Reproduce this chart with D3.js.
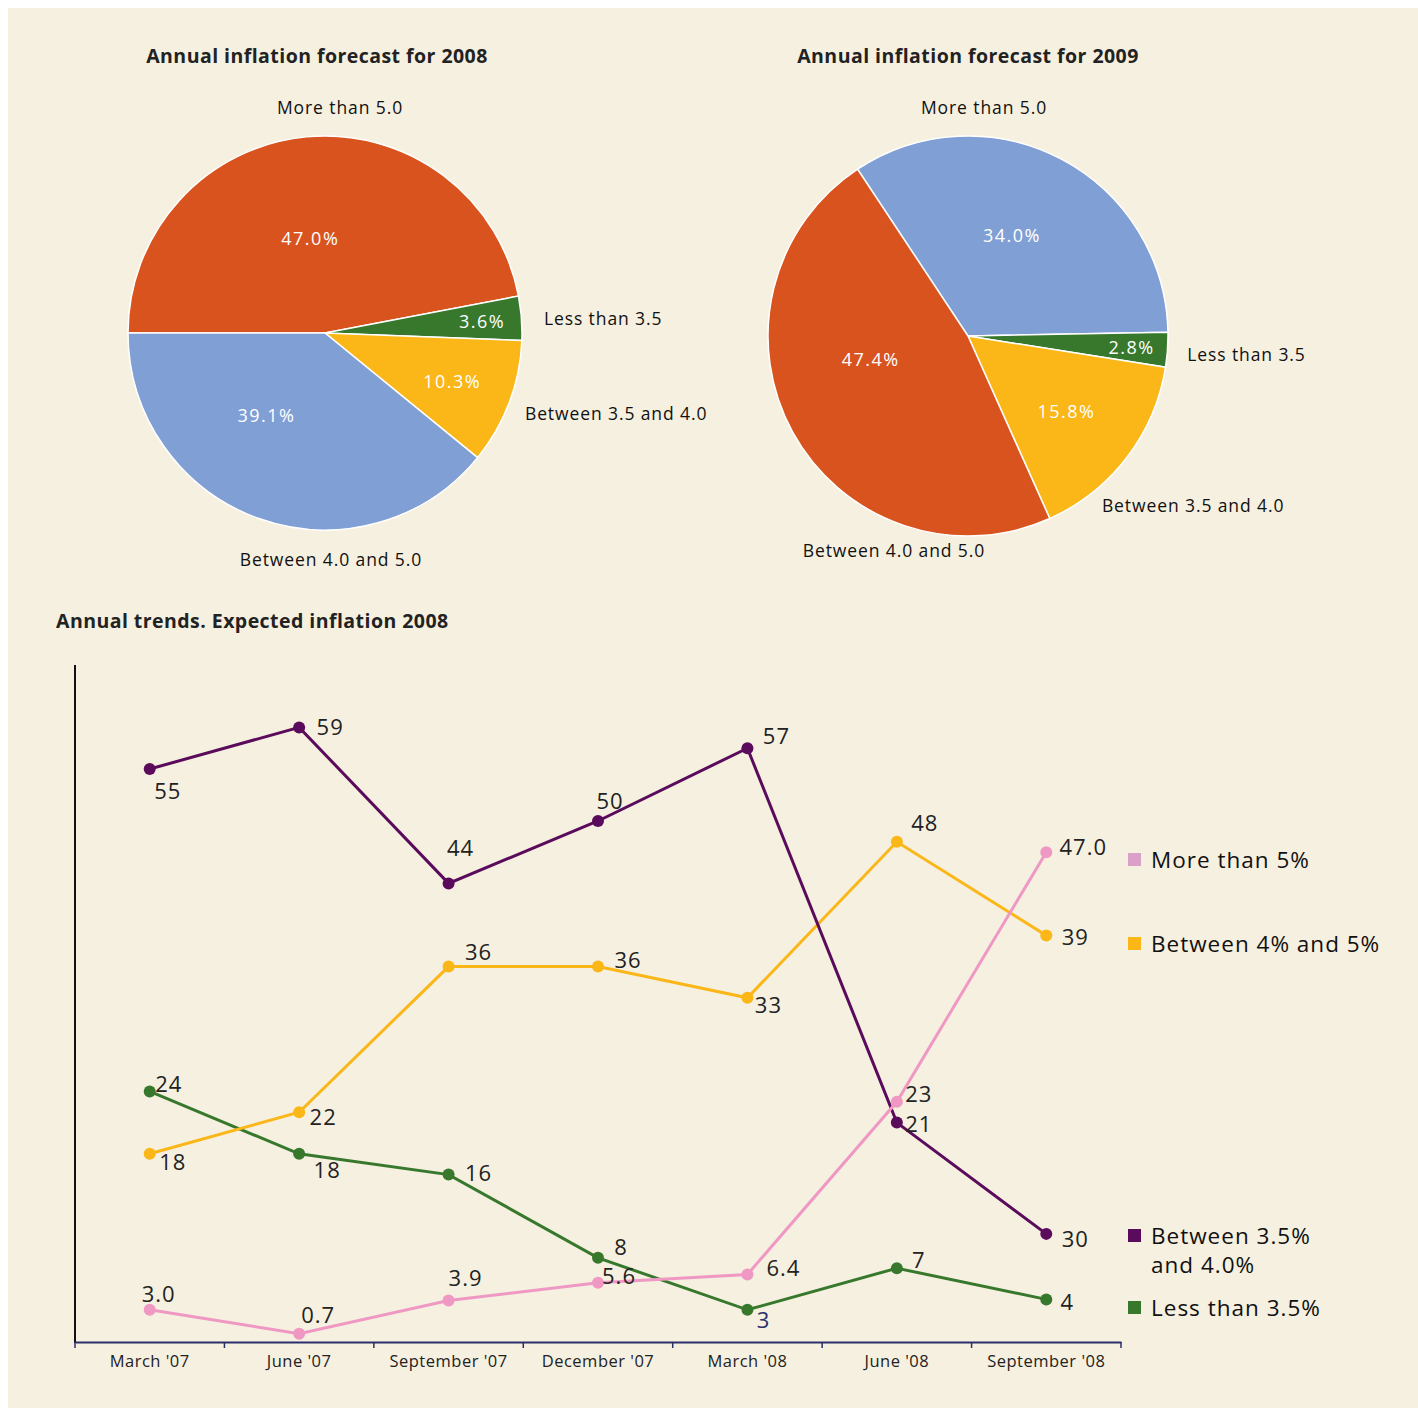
<!DOCTYPE html>
<html><head><meta charset="utf-8">
<script src="https://cdn.jsdelivr.net/npm/d3@7"></script>
<style>
html,body{margin:0;padding:0;background:#fff;}
svg{display:block;}
text{font-family:"Open Sans","Noto Sans",sans-serif;}
</style></head>
<body>
<svg id="chart" width="1418" height="1408"></svg>
<script>
// ---------- DATA ----------
const pieCategories = ["More than 5.0", "Less than 3.5", "Between 3.5 and 4.0", "Between 4.0 and 5.0"];
const pie2008Values = [47.0, 3.6, 10.3, 39.1];
const pie2009Values = [34.0, 2.8, 15.8, 47.4];
const pieTitles = ["Annual inflation forecast for 2008", "Annual inflation forecast for 2009"];

const periods = ["March '07", "June '07", "September '07", "December '07", "March '08", "June '08", "September '08"];
const seriesNames = ["More than 5%", "Between 4% and 5%", "Between 3.5%\nand 4.0%", "Less than 3.5%"];
const moreThan5 = [3.0, 0.7, 3.9, 5.6, 6.4, 23, 47.0];
const between4and5 = [18, 22, 36, 36, 33, 48, 39];
const between35and4 = [55, 59, 44, 50, 57, 21, 10.3];
const lessThan35 = [24, 18, 16, 8, 3, 7, 4];
// point labels as printed in the chart
const moreThan5Labels = ["3.0", "0.7", "3.9", "5.6", "6.4", "23", "47.0"];
const between4and5Labels = ["18", "22", "36", "36", "33", "48", "39"];
const between35and4Labels = ["55", "59", "44", "50", "57", "21", "30"];
const lessThan35Labels = ["24", "18", "16", "8", "3", "7", "4"];
const lineTitle = "Annual trends. Expected inflation 2008";

// ---------- STYLE ----------
const C = {orange:"#d9531e", blue:"#7f9fd5", yellow:"#fbb617", green:"#37782d",
           purple:"#5a0b5c", pink:"#f098c4", pinkLegend:"#dba0c8", cream:"#f6f0e0", navy:"#2b2f6b"};
const pie2008Colors = [C.orange, C.green, C.yellow, C.blue];
const pie2009Colors = [C.blue, C.green, C.yellow, C.orange];

const svg = d3.select("#chart");
svg.append("rect").attr("x",8).attr("y",8).attr("width",1410).attr("height",1400).attr("fill",C.cream);

// ---------- PIES ----------
function drawPie(cfg){
  const g = svg.append("g").attr("transform",`translate(${cfg.cx},${cfg.cy})`);
  const pie = d3.pie().sort(null).value(d=>d.v)
      .startAngle(cfg.start).endAngle(cfg.start + 2*Math.PI);
  const data = cfg.values.map((v,i)=>({v, name: pieCategories[i], color: cfg.colors[i]}));
  const arcs = pie(data);
  const arc = d3.arc().innerRadius(0).outerRadius(cfg.r);
  g.selectAll("path").data(arcs).join("path")
    .attr("d",arc).attr("fill",d=>d.data.color)
    .attr("stroke","#fff").attr("stroke-width",1.5);
  // inner percent labels
  g.selectAll("text.pct").data(arcs).join("text").attr("class","pct")
    .attr("transform",(d,i)=>{
      const a = d.startAngle + (d.endAngle-d.startAngle)*cfg.inFrac[i];
      const rr = cfg.r*cfg.inRad[i];
      return `translate(${rr*Math.sin(a)},${-rr*Math.cos(a)})`;
    })
    .attr("text-anchor","middle").attr("dominant-baseline","central")
    .attr("fill","#fff").attr("font-size",18).attr("letter-spacing",1.5)
    .text(d=>d.data.v.toFixed(1)+"%");
  // outside category labels
  g.selectAll("text.cat").data(arcs).join("text").attr("class","cat")
    .attr("transform",(d,i)=>{
      const a = cfg.outAng[i]*Math.PI/180, rr = cfg.r*cfg.outRad[i];
      return `translate(${rr*Math.sin(a)},${-rr*Math.cos(a)})`;
    })
    .attr("text-anchor",(d,i)=>cfg.outAnchor[i]).attr("dominant-baseline","central")
    .attr("fill","#111").attr("font-size",17.5).attr("letter-spacing",0.9)
    .text(d=>d.data.name);
  svg.append("text").attr("x",cfg.titleX).attr("y",55).attr("text-anchor","middle")
    .attr("dominant-baseline","central").attr("font-weight","bold").attr("font-size",19.5)
    .attr("letter-spacing",0.45).attr("fill","#222").text(cfg.title);
}
drawPie({cx:325, cy:333, r:197, start:-Math.PI/2, values:pie2008Values, colors:pie2008Colors,
  inFrac:[0.48,0.5,0.5,0.614], inRad:[0.49,0.8,0.69,0.51],
  outAng:[3.8,86,111.8,178.5], outRad:[1.15,1.114,1.093,1.147],
  outAnchor:["middle","start","start","middle"], title:pieTitles[0], titleX:317});
drawPie({cx:968, cy:336, r:200, start:-33.5*Math.PI/180, values:pie2009Values, colors:pie2009Colors,
  inFrac:[0.466,0.5,0.5,0.59], inRad:[0.55,0.82,0.62,0.5],
  outAng:[4,94.7,141.6,199.1], outRad:[1.148,1.10,1.078,1.132],
  outAnchor:["middle","start","start","middle"], title:pieTitles[1], titleX:968});

// ---------- LINE CHART ----------
svg.append("text").attr("x",56).attr("y",620).attr("dominant-baseline","central")
  .attr("font-weight","bold").attr("font-size",19.5).attr("letter-spacing",0.45)
  .attr("fill","#222").text(lineTitle);

const x = d3.scaleBand().domain(periods).range([75,1121]).padding(0);
const y = d3.scaleLinear().domain([0,65]).range([1341,665]);
const xc = p => x(p) + x.bandwidth()/2;

// y axis line
svg.append("line").attr("x1",75).attr("x2",75).attr("y1",y(65)).attr("y2",1343)
  .attr("stroke","#111").attr("stroke-width",2);
// x axis
const xAxis = svg.append("g").attr("transform","translate(0,1342)")
  .call(d3.axisBottom(x).tickSize(0).tickPadding(13));
xAxis.select(".domain").attr("stroke",C.navy).attr("stroke-width",2);
xAxis.selectAll("text").attr("font-size",16.5).attr("letter-spacing",0.5).attr("fill","#222")
  .attr("font-family","\"Open Sans\",\"Noto Sans\",sans-serif");
const bounds = periods.map(p=>x(p)).concat([x.range()[1]]);
svg.append("g").selectAll("line").data(bounds).join("line")
  .attr("x1",d=>d).attr("x2",d=>d).attr("y1",1342).attr("y2",1348)
  .attr("stroke",C.navy).attr("stroke-width",1.5);

const series = [
  {name:seriesNames[3], values:lessThan35, labels:lessThan35Labels, color:C.green,
   off:[[19,-8],[28,15],[30,-3],[23,-12],[16,9],[22,-9],[21,2]]},
  {name:seriesNames[1], values:between4and5, labels:between4and5Labels, color:C.yellow,
   off:[[23,7],[24,4],[30,-16],[30,-8],[21,6],[28,-20],[29,1]]},
  {name:seriesNames[2], values:between35and4, labels:between35and4Labels, color:C.purple,
   off:[[18,21],[31,-1],[12,-36],[12,-21],[29,-13],[22,0],[29,4]]},
  {name:seriesNames[0], values:moreThan5, labels:moreThan5Labels, color:C.pink,
   off:[[9,-17],[19,-20],[17,-23],[21,-8],[36,-7],[22,-9],[37,-6]]}
];
const line = d3.line().x((d,i)=>xc(periods[i])).y(d=>y(d));
series.forEach(s=>{
  const g = svg.append("g");
  g.append("path").attr("d",line(s.values)).attr("fill","none")
    .attr("stroke",s.color).attr("stroke-width",3);
  g.selectAll("circle").data(s.values).join("circle")
    .attr("cx",(d,i)=>xc(periods[i])).attr("cy",d=>y(d)).attr("r",6).attr("fill",s.color);
});
// labels on top
series.forEach(s=>{
  svg.append("g").selectAll("text").data(s.values).join("text")
    .attr("x",(d,i)=>xc(periods[i])+s.off[i][0]).attr("y",(d,i)=>y(d)+s.off[i][1])
    .attr("text-anchor","middle").attr("dominant-baseline","central")
    .attr("font-size",22).attr("letter-spacing",1)
    .attr("fill",(d,i)=>(s.color===C.green && s.labels[i]==="3")?C.navy:"#222")
    .text((d,i)=>s.labels[i]);
});

// legend
const legend = [
  {name:seriesNames[0], color:C.pinkLegend, y:859},
  {name:seriesNames[1], color:C.yellow, y:943},
  {name:seriesNames[2], color:C.purple, y:1235},
  {name:seriesNames[3], color:C.green, y:1307}
];
legend.forEach(l=>{
  svg.append("rect").attr("x",1128).attr("y",l.y-6).attr("width",13).attr("height",13).attr("fill",l.color);
  const t = svg.append("text").attr("x",1151).attr("y",l.y).attr("dominant-baseline","central")
    .attr("font-size",22.5).attr("letter-spacing",1).attr("fill","#111");
  l.name.split("\n").forEach((ln,k)=>{
    t.append("tspan").attr("x",1151).attr("dy",k===0?0:29).text(ln);
  });
});
</script>
</body></html>
